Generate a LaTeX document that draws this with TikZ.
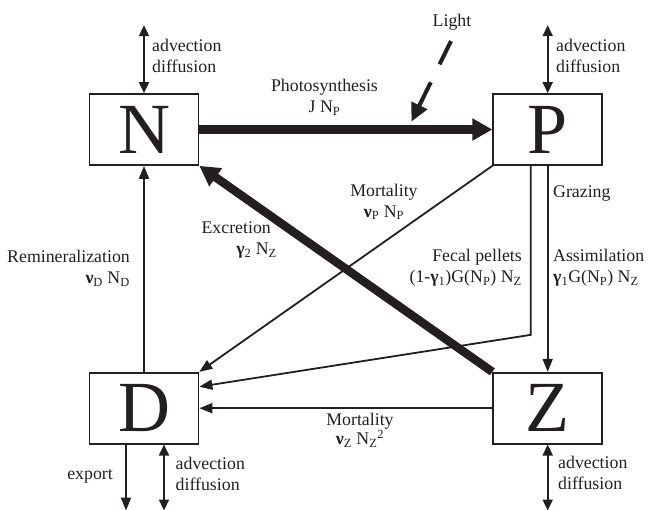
\documentclass[tikz,border=0pt]{standalone}
\usepackage{fontspec}
\setmainfont{Liberation Serif}
\usepackage{xcolor}
\usetikzlibrary{positioning,arrows.meta}
\definecolor{tinta}{HTML}{231F20}

\begin{document}
\begin{tikzpicture}[x=1pt, y=-1pt, color=tinta, font=\fontsize{17.8}{21}\selectfont,
  caja/.style={draw, line width=1.7pt, minimum width=109pt, minimum height=71pt, inner sep=0pt, font=\fontsize{72}{72}\selectfont},
  flujo/.style={line width=1.8pt, -{Triangle[length=13pt,width=10pt]}},
  mezcla/.style={line width=1.8pt, {Triangle[length=11pt,width=10pt]}-{Triangle[length=11pt,width=10pt]}},
  grueso/.style={line width=8.5pt, -{Triangle[length=20pt,width=21pt]}},
  etiq/.style={inner sep=0pt}]
  \useasboundingbox (0,0) rectangle (648,510);
  % compartimentos
  \node[caja] (N) at (144,129.5) {N};
  \node[caja, right=293pt of N] (P) {P};
  \node[caja, below=206pt of N] (D) {D};
  \node[caja, below=206pt of P] (Z) {Z};
  % extremos libres
  \coordinate (Nair) at ([yshift=68pt]N.north);
  \coordinate (Pair) at ([yshift=68pt]P.north);
  \coordinate (Dsal) at ([xshift=-18pt, yshift=-66pt]D.south);
  \coordinate (Dmar) at ([xshift=20pt, yshift=-66pt]D.south);
  \coordinate (Zmar) at ([yshift=-66pt]Z.south);
  \coordinate (luz) at (411.5,121.5);
  % flujos
  \draw[grueso] (N) -- (P);
  \draw[grueso] (Z.north west) -- (N.south east);
  \draw[flujo] (P.south west) -- (D.north east);
  \draw[flujo] ([xshift=-17pt]P.south) -- ++(0,169) -- ([yshift=21.5pt]D.east);
  \draw[flujo] (P) -- (Z);
  \draw[flujo] (D) -- (N);
  \draw[flujo] (Z) -- (D);
  \draw[mezcla] (Nair) -- (N);
  \draw[mezcla] (Pair) -- (P);
  \draw[flujo] ([xshift=-18pt]D.south) -- (Dsal);
  \draw[mezcla] ([xshift=20pt]D.south) -- (Dmar);
  \draw[mezcla] (Z) -- (Zmar);
  \node[etiq, anchor=base] (luzt) at (452,27) {Light};
  \draw[line width=4pt, dash pattern=on 26pt off 20pt, -{Triangle[length=18pt,width=17pt]}] ([xshift=-1pt, yshift=-10pt]luzt.south) -- (luz);
  % etiquetas
  \node[etiq, anchor=west, align=left] (advN) at (152,56) {advection\\diffusion};
  \node[etiq, anchor=west, align=left] (advP) at (556,56) {advection\\diffusion};
  \node[etiq, anchor=west, align=left] (advD) at (175.5,474) {advection\\diffusion};
  \node[etiq, anchor=west, align=left] (advZ) at (558,473) {advection\\diffusion};
  \node[etiq, anchor=base east] (exp) at (113,479) {export};
  \node[etiq, align=center] (fot) at (324.5,97.5) {Photosynthesis\\J N\textsubscript{P}};
  \node[etiq, align=center] (morP) at (384,202) {Mortality\\\textbf{ν}\textsubscript{P} N\textsubscript{P}};
  \node[etiq, anchor=base west] (graz) at (553,198) {Grazing};
  \node[etiq, anchor=east, align=right] (fec) at (522,268) {Fecal pellets\\(1-\textbf{γ}\textsubscript{1})G(N\textsubscript{P}) N\textsubscript{Z}};
  \node[etiq, anchor=west, align=left] (asim) at (553,268) {Assimilation\\\textbf{γ}\textsubscript{1}G(N\textsubscript{P}) N\textsubscript{Z}};
  \node[etiq, anchor=east, align=right] (exc) at (277,240) {Excretion\hspace*{6pt}\\\textbf{γ}\textsubscript{2} N\textsubscript{Z}};
  \node[etiq, anchor=east, align=right] (remin) at (130,268.5) {Remineralization\\\textbf{ν}\textsubscript{D} N\textsubscript{D}};
  \node[etiq, align=center, font=\fontsize{17.8}{17}\selectfont] (morZ) at (360,430) {Mortality\\\textbf{ν}\textsubscript{Z} N\textsubscript{Z}\textsuperscript{2}};
\end{tikzpicture}
\end{document}
